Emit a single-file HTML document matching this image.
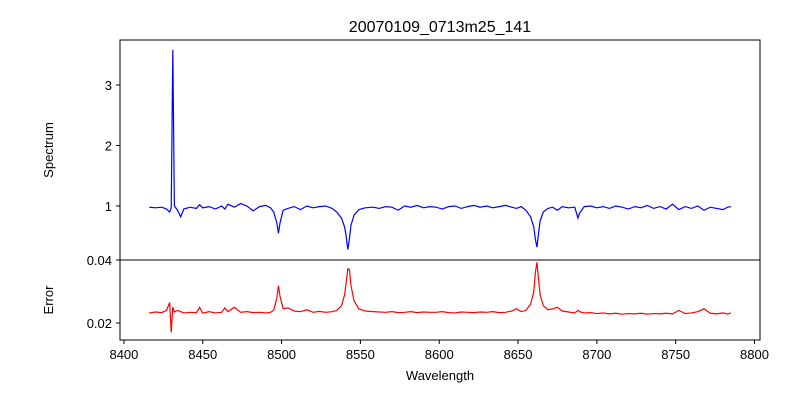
<!DOCTYPE html>
<html><head><meta charset="utf-8"><style>
body{margin:0;background:#fff;font-family:"Liberation Sans","DejaVu Sans",sans-serif}
svg text{font-family:"Liberation Sans","DejaVu Sans",sans-serif;font-size:13px;fill:#000}
</style></head><body>
<svg id="c" width="800" height="400">
<defs><clipPath id="ct"><rect x="120" y="40" width="640" height="220"/></clipPath><clipPath id="cb"><rect x="120" y="260" width="640" height="80"/></clipPath></defs>
<text x="440" y="32" text-anchor="middle" style="font-size:16px">20070109_0713m25_141</text>
<g id="topg"></g>
<g id="botg"></g>
<text x="440" y="380" text-anchor="middle">Wavelength</text>
<text transform="translate(53,150) rotate(-90)" text-anchor="middle">Spectrum</text>
<text transform="translate(53,300) rotate(-90)" text-anchor="middle">Error</text>
</svg>
<script>
const wavelengths=[8416,8420,8424,8427,8429,8430,8431,8432,8434,8436,8438,8442,8446,8448,8450,8454,8458,8462,8464,8466,8470,8474,8478,8482,8486,8490,8493,8495,8497,8498,8499,8501,8504,8508,8512,8516,8520,8524,8528,8532,8535,8538,8540,8541,8542,8543,8544,8546,8549,8553,8558,8562,8566,8570,8574,8578,8582,8586,8590,8594,8598,8602,8606,8610,8614,8618,8622,8626,8630,8634,8638,8642,8646,8649,8652,8655,8658,8660,8661,8662,8663,8664,8666,8669,8672,8675,8678,8682,8686,8688,8689,8692,8696,8700,8704,8708,8712,8716,8720,8724,8728,8732,8736,8740,8744,8748,8752,8756,8760,8764,8768,8772,8776,8780,8783,8785];
const spectrum=[0.98,0.97,0.98,0.95,0.90,0.97,3.58,1.00,0.93,0.82,0.95,0.98,0.96,1.02,0.97,0.99,0.95,1.00,0.95,1.03,0.98,1.04,1.00,0.92,0.99,1.01,0.97,0.90,0.72,0.55,0.72,0.93,0.96,0.99,0.94,1.00,0.97,0.99,1.00,0.96,0.90,0.80,0.65,0.50,0.28,0.45,0.68,0.85,0.94,0.97,0.98,0.96,0.99,0.98,0.93,1.00,0.98,1.01,0.97,0.99,0.98,0.95,0.99,1.00,0.96,0.99,1.01,0.98,1.00,0.97,0.99,1.01,0.98,0.96,0.99,0.93,0.82,0.65,0.45,0.32,0.55,0.75,0.90,0.96,0.98,0.93,0.99,0.97,0.98,0.80,0.88,0.99,1.00,0.97,0.99,0.96,1.00,0.98,0.95,0.99,0.97,1.01,0.96,0.99,0.95,1.03,0.94,0.99,0.96,1.00,0.93,0.98,0.96,0.94,0.98,0.99];
const errors=[0.0232,0.0235,0.0233,0.0240,0.0265,0.0170,0.0250,0.0235,0.0240,0.0236,0.0232,0.0234,0.0233,0.0250,0.0231,0.0236,0.0232,0.0234,0.0248,0.0236,0.0250,0.0234,0.0236,0.0233,0.0234,0.0232,0.0234,0.0240,0.0280,0.0318,0.0285,0.0245,0.0248,0.0238,0.0236,0.0242,0.0234,0.0237,0.0234,0.0236,0.0240,0.0255,0.0290,0.0330,0.0372,0.0370,0.0320,0.0270,0.0245,0.0238,0.0236,0.0235,0.0234,0.0236,0.0233,0.0234,0.0236,0.0233,0.0235,0.0234,0.0234,0.0236,0.0233,0.0232,0.0235,0.0234,0.0233,0.0235,0.0234,0.0236,0.0233,0.0234,0.0238,0.0245,0.0236,0.0240,0.0260,0.0300,0.0360,0.0393,0.0340,0.0290,0.0255,0.0242,0.0245,0.0250,0.0238,0.0235,0.0232,0.0240,0.0236,0.0232,0.0233,0.0230,0.0232,0.0229,0.0231,0.0228,0.0230,0.0229,0.0231,0.0228,0.0230,0.0229,0.0231,0.0229,0.0240,0.0230,0.0232,0.0236,0.0245,0.0231,0.0229,0.0232,0.0228,0.0232];
const xTicks=[8400,8450,8500,8550,8600,8650,8700,8750,8800];
const specTicks=[1,2,3];
const errTicks=[0.02,0.04];
const NS="http://www.w3.org/2000/svg";
const L=120,R=760,xmin=8397.5,xmax=8803.5;
const X=v=>L+(v-xmin)/(xmax-xmin)*(R-L);
const Ys=v=>206-(v-1)*60.5;
const Ye=v=>260+(0.04-v)/0.01*31.5;
function mk(p,tag,a){const e=document.createElementNS(NS,tag);for(const k in a)e.setAttribute(k,a[k]);p.appendChild(e);return e;}
const topG=document.getElementById('topg'),botG=document.getElementById('botg');
let p=mk(topG,'polyline',{points:wavelengths.map((w,i)=>X(w)+','+Ys(spectrum[i])).join(' '),fill:'none',stroke:'#0000ff','stroke-width':1.2,'clip-path':'url(#ct)'});


p=mk(botG,'polyline',{points:wavelengths.map((w,i)=>X(w)+','+Ye(errors[i])).join(' '),fill:'none',stroke:'#ff0000','stroke-width':1.2,'clip-path':'url(#cb)'});


let r=mk(topG,'rect',{x:L,y:40,width:R-L,height:220,fill:'none',stroke:'#000','stroke-width':1});


r=mk(botG,'rect',{x:L,y:260,width:R-L,height:80,fill:'none',stroke:'#000','stroke-width':1});


xTicks.forEach(t=>{const x=X(t);mk(botG,'line',{x1:x,x2:x,y1:340,y2:344,stroke:'#000'});
const tx=mk(botG,'text',{x:x,y:359,'text-anchor':'middle'});tx.textContent=t;

});
specTicks.forEach(t=>{const y=Ys(t);mk(topG,'line',{x1:116,x2:120,y1:y,y2:y,stroke:'#000'});
const tx=mk(topG,'text',{x:112,y:y+5,'text-anchor':'end'});tx.textContent=t;

});
errTicks.forEach(t=>{const y=Ye(t);mk(botG,'line',{x1:116,x2:120,y1:y,y2:y,stroke:'#000'});
const tx=mk(botG,'text',{x:112,y:y+5,'text-anchor':'end'});tx.textContent=t.toFixed(2);

});
</script>
</body></html>
